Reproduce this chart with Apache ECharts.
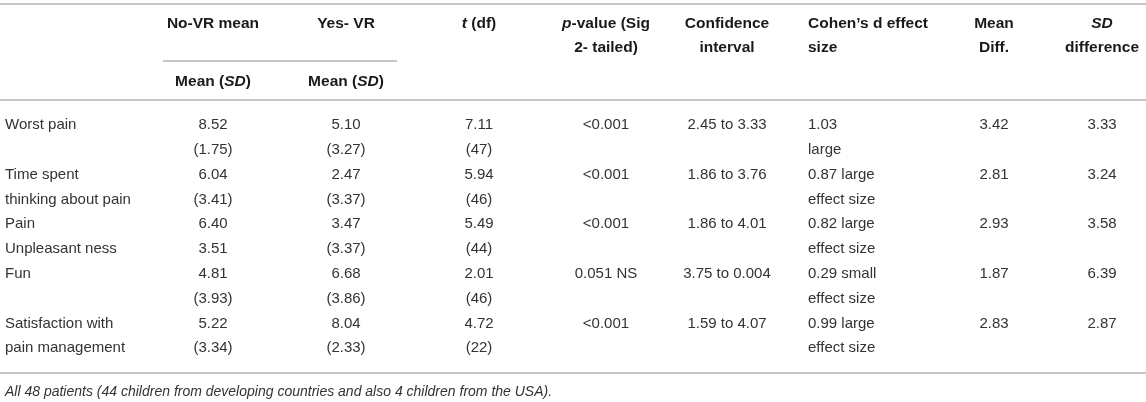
<!DOCTYPE html>
<html><head><meta charset="utf-8">
<script src="https://cdn.jsdelivr.net/npm/echarts@6/dist/echarts.min.js"></script>
<style>html,body{margin:0;padding:0;background:#fff}#c{width:1146px;height:402px}</style>
</head><body><div id="c"></div>
<script>
// ---- data ----
const rowLabels1 = ["Worst pain", "Time spent", "Pain", "Fun", "Satisfaction with"];
const rowLabels2 = ["", "thinking about pain", "Unpleasant ness", "", "pain management"];
const noVrMean = ["8.52", "6.04", "6.40", "4.81", "5.22"];
const noVrSD = ["(1.75)", "(3.41)", "3.51", "(3.93)", "(3.34)"];
const yesVrMean = ["5.10", "2.47", "3.47", "6.68", "8.04"];
const yesVrSD = ["(3.27)", "(3.37)", "(3.37)", "(3.86)", "(2.33)"];
const tValue = ["7.11", "5.94", "5.49", "2.01", "4.72"];
const tDf = ["(47)", "(46)", "(44)", "(46)", "(22)"];
const pValue = ["<0.001", "<0.001", "<0.001", "0.051 NS", "<0.001"];
const confInterval = ["2.45 to 3.33", "1.86 to 3.76", "1.86 to 4.01", "3.75 to 0.004", "1.59 to 4.07"];
const cohen1 = ["1.03", "0.87 large", "0.82 large", "0.29 small", "0.99 large"];
const cohen2 = ["large", "effect size", "effect size", "effect size", "effect size"];
const meanDiff = ["3.42", "2.81", "2.93", "1.87", "2.83"];
const sdDiff = ["3.33", "3.24", "3.58", "6.39", "2.87"];
const footnote = "All 48 patients (44 children from developing countries and also 4 children from the USA).";
const header1 = ["", "No-VR mean", "Yes- VR", "{i|t} (df)", "{i|p}-value (Sig", "Confidence", "Cohen’s d effect", "Mean", "{i|SD}"];
const header2 = ["", "", "", "", "2- tailed)", "interval", "size", "Diff.", "difference"];
const subHeader = ["", "Mean ({i|SD})", "Mean ({i|SD})"];

// ---- layout ----
const colX = [5, 213, 346, 479, 606, 727, 808, 994, 1102];
const colAlign = ['left', 'center', 'center', 'center', 'center', 'center', 'left', 'center', 'center'];
const FONT = '"Liberation Sans", Arial, sans-serif';
const dataColor = '#333';
const headColor = '#1a1a1a';
const ruleColor = '#c6c6c6';

// Build cells: [column, line, text]
const columns = [
  [rowLabels1, rowLabels2], [noVrMean, noVrSD], [yesVrMean, yesVrSD], [tValue, tDf],
  [pValue, null], [confInterval, null], [cohen1, cohen2], [meanDiff, null], [sdDiff, null]
];
const cells = [];
for (let r = 0; r < rowLabels1.length; r++) {
  columns.forEach((pair, c) => {
    if (pair[0] && pair[0][r]) cells.push([c, r * 2, pair[0][r]]);
    if (pair[1] && pair[1][r]) cells.push([c, r * 2 + 1, pair[1][r]]);
  });
}
const lineNames = [];
for (let i = 0; i < rowLabels1.length * 2; i++) lineNames.push('L' + i);

const rich = {
  i: { fontStyle: 'italic', fontWeight: 'bold', fontSize: 15.5, fontFamily: FONT, fill: headColor, color: headColor }
};

function headText(text, x, y, align) {
  return {
    type: 'text', x: x, y: y, silent: true,
    style: {
      text: text, font: 'bold 15.5px ' + FONT, fill: headColor,
      align: align, verticalAlign: 'middle', textAlign: align, textVerticalAlign: 'middle',
      rich: rich
    }
  };
}
function rule(x1, x2, y) {
  return { type: 'line', silent: true, shape: { x1: x1, y1: y, x2: x2, y2: y },
    style: { stroke: ruleColor, lineWidth: 2 } };
}

const graphics = [rule(0, 1146, 4), rule(163, 397, 61), rule(0, 1146, 100), rule(0, 1146, 373)];
header1.forEach((t, c) => { if (t) graphics.push(headText(t, colX[c], 24, colAlign[c])); });
header2.forEach((t, c) => { if (t) graphics.push(headText(t, colX[c], 48, colAlign[c])); });
subHeader.forEach((t, c) => { if (t) graphics.push(headText(t, colX[c], 82, colAlign[c])); });
graphics.push({
  type: 'text', x: 5, y: 392, silent: true,
  style: { text: footnote, font: 'italic 14px ' + FONT, fill: dataColor,
    align: 'left', verticalAlign: 'middle', textAlign: 'left', textVerticalAlign: 'middle' }
});

const chart = echarts.init(document.getElementById('c'), null, { renderer: 'canvas' });
chart.setOption({
  animation: false,
  backgroundColor: '#fff',
  grid: { left: 0, right: 0, top: 112.6, height: 248 },
  xAxis: { type: 'category', data: colX.map((_, i) => 'C' + i), show: false },
  yAxis: { type: 'category', data: lineNames, inverse: true, show: false },
  graphic: graphics,
  series: [{
    type: 'custom',
    data: cells,
    encode: { x: 0, y: 1 },
    renderItem: function (params, api) {
      const cell = cells[params.dataIndex];
      const pt = api.coord([cell[0], cell[1]]);
      const al = colAlign[cell[0]];
      return {
        type: 'text',
        x: colX[cell[0]], y: pt[1],
        style: {
          text: cell[2], font: '15px ' + FONT, fill: dataColor,
          align: al, verticalAlign: 'middle', textAlign: al, textVerticalAlign: 'middle'
        }
      };
    }
  }]
});
</script>
</body></html>
